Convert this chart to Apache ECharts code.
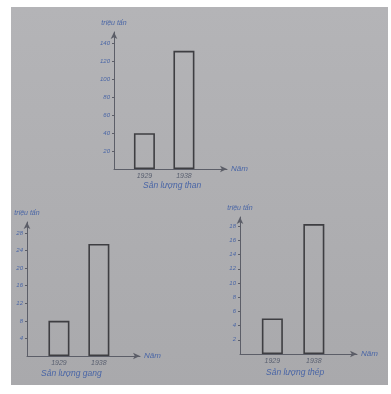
<!DOCTYPE html>
<html><head><meta charset="utf-8">
<script src="https://cdn.jsdelivr.net/npm/echarts@6/dist/echarts.min.js"></script>
<style>html,body{margin:0;padding:0;background:#fff}#c{width:391px;height:394px}</style>
</head><body><div id="c"></div>
<script>
const years = ['1929', '1938'];
const coal = [40, 132];
const pigIron = [8, 25.5];
const steel = [5, 18.3];
const coalTicks = [20, 40, 60, 80, 100, 120, 140];
const ironTicks = [4, 8, 12, 16, 20, 24, 28];
const steelTicks = [2, 4, 6, 8, 10, 12, 14, 16, 18];
const titles = ['Sản lượng than', 'Sản lượng gang', 'Sản lượng thép'];
const yName = 'triệu tấn';
const xName = 'Năm';

const blue = '#4a66a6';
const axisCol = '#5c5e68';
const grids = [
  {left: 114, top: 32, width: 113, height: 137},
  {left: 27, top: 222, width: 113, height: 134},
  {left: 240, top: 217, width: 117, height: 137}
];
const xr = [[-0.77, 2.09], [-0.8, 2.03], [-0.78, 2.04]];
const ymax = [153, 30.5, 19.3];
const yt = [coalTicks, ironTicks, steelTicks];
const vals = [coal, pigIron, steel];

const chart = echarts.init(document.getElementById('c'));
const opt = {
  backgroundColor: '#ffffff',
  animation: false,
  graphic: [{type: 'rect', z: -10, shape: {x: 11, y: 7, width: 377, height: 378},
    style: {fill: new echarts.graphic.LinearGradient(0, 0, 0, 1, [{offset: 0, color: '#b4b4b7'}, {offset: 1, color: '#a9a9ac'}])}}],
  grid: grids.map(g => Object.assign({outerBoundsMode: 'none', containLabel: false}, g)),
  title: [
    {text: titles[0], left: 143, top: 181},
    {text: titles[1], left: 41, top: 369},
    {text: titles[2], left: 266, top: 368}
  ].map(t => Object.assign(t, {padding: 0, textStyle: {fontSize: 8.5, fontStyle: 'italic', fontWeight: 'normal', color: blue, fontFamily: 'Liberation Sans'}})),
  xAxis: grids.map((g, i) => ({
    type: 'value', gridIndex: i, min: xr[i][0], max: xr[i][1],
    name: xName, nameLocation: 'end', nameGap: 4,
    nameTextStyle: {fontSize: 8, fontStyle: 'italic', color: blue, fontFamily: 'Liberation Sans'},
    axisLine: {show: true, onZero: false, lineStyle: {color: axisCol, width: 1}, symbol: ['none', 'arrow'], symbolSize: [5, 7]},
    axisTick: {show: false},
    splitLine: {show: false},
    axisLabel: {customValues: [0, 1], formatter: v => years[Math.round(v)], fontSize: 7, fontStyle: 'italic', color: '#5a6070', margin: 4, fontFamily: 'Liberation Sans'}
  })),
  yAxis: grids.map((g, i) => ({
    type: 'value', gridIndex: i, min: 0, max: ymax[i],
    name: yName, nameLocation: 'end', nameGap: 5,
    nameTextStyle: {fontSize: 7, fontStyle: 'italic', color: blue, fontFamily: 'Liberation Sans', align: 'center'},
    axisLine: {show: true, onZero: false, lineStyle: {color: axisCol, width: 1}, symbol: ['none', 'arrow'], symbolSize: [5, 7]},
    axisTick: {show: true, length: 2, customValues: yt[i], lineStyle: {color: axisCol}},
    splitLine: {show: false},
    axisLabel: {customValues: yt[i], fontSize: 6, fontStyle: 'italic', color: blue, margin: 4, fontFamily: 'Liberation Sans'}
  })),
  series: vals.map((v, i) => ({
    type: 'bar', xAxisIndex: i, yAxisIndex: i,
    data: v.map((y, k) => [k, y]),
    barWidth: 21,
    itemStyle: {color: 'rgba(0,0,0,0)', borderColor: '#3e3e42', borderWidth: 1.6}
  }))
};
chart.setOption(opt);
</script>
</body></html>
